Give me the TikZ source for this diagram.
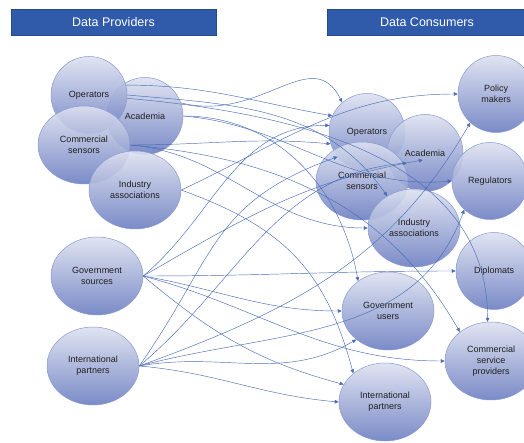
\documentclass[tikz,border=0pt]{standalone}
\usepackage{fontspec}
\setmainfont{Liberation Sans}
\usepackage{xcolor}
\usepackage{tikz}
\usetikzlibrary{calc, shapes.geometric, arrows.meta}

\definecolor{hdrblue}{HTML}{2F5BAA}
\definecolor{bubtop}{HTML}{DDE1F0}
\definecolor{bubbot}{HTML}{6C7EC1}
\definecolor{bubline}{HTML}{8A9AD0}
\definecolor{linkc}{HTML}{4A6DB6}

\begin{document}
\begin{tikzpicture}[x = 1pt, y = 1pt,
		bub/.style = {ellipse, draw = bubline, line width = 0.5pt, top color = bubtop, bottom color = bubbot, fill opacity = 0.9, text opacity = 1, minimum width = 92pt, minimum height = 78pt, inner sep = 0pt, align = center, text = black!88, font = \fontsize{9}{10.8}\selectfont},
		rbub/.style = {bub, minimum width = 76pt, minimum height = 77pt},
		hdr/.style = {rectangle, fill = hdrblue, draw = hdrblue!80!black, line width = 0.4pt, text = white, minimum height = 26pt, inner sep = 0pt, font = \fontsize{12.5}{14}\selectfont},
		link/.style = {draw = linkc, line width = 0.45pt}]
			\useasboundingbox (0,0) rectangle (524,-443);
			\clip (0,0) rectangle (524,-443);

			\begin{scope}
				\node [hdr, minimum width = 205pt] (prov) at (113.5,-22) {Data Providers};
				\node [hdr, minimum width = 200pt] (cons) at (427,-22) {Data Consumers};
			\end{scope}

			\begin{scope}
				\node [rbub] (acL) at (145,-116) {Academia};
				\node [rbub] (opL) at (89,-95) {Operators};
				\node [bub] (csL) at (84,-145) {Commercial\\sensors};
				\node [bub] (iaL) at (135,-190) {Industry\\associations};
				\node [bub] (gsL) at (97,-276) {Government\\sources};
				\node [bub] (ipL) at (93,-366) {International\\partners};
			\end{scope}

			\begin{scope}
				\node [rbub] (opR) at (367,-132) {Operators};
				\node [rbub] (acR) at (425,-153) {Academia};
				\node [bub] (csR) at (362,-181) {Commercial\\sensors};
				\node [bub] (iaR) at (414,-228) {Industry\\associations};
				\node [rbub] (pmR) at (496,-94) {Policy\\makers};
				\node [rbub] (reR) at (490,-181) {Regulators};
				\node [rbub] (diR) at (494,-271) {Diplomats};
				\node [bub] (guR) at (388,-311) {Government\\users};
				\node [bub] (cspR) at (491,-361) {Commercial\\service\\providers};
				\node [bub] (ipR) at (385,-402) {International\\partners};
			\end{scope}

			\begin{scope}[link, -{Triangle[length = 4pt, width = 3.6pt]}]
				\draw (acL.20) .. controls +(80,-20) and +(-30,60) .. (opR.130);
				\draw (opL.15) to [out = 0, in = 170] (opR.155);
				\draw (gsL.east) to [out = 40, in = 180] (opR.170);
				\draw (csL.east) to [out = 0, in = 175] (opR.198);
				\draw (ipL.east) to [out = 55, in = 200, looseness = 1.2] (opR.220);
				\draw (ipL.east) to [out = 40, in = 185] ([shift = {(20,-10)}]acR.west);
				\draw (gsL.east) to [out = 30, in = 190] ([shift = {(36,-7)}]acR.west);
				\draw (iaL.east) to [out = 25, in = 180] (pmR.180);
				\draw (ipL.east) to [out = 20, in = 240] (pmR.228);
				\draw (opL.0) to [out = -5, in = 125] (iaR.130);
				\draw (csL.east) to [out = -5, in = 180] (iaR.180);
				\draw (acL.east) to [out = -5, in = 185] (reR.180);
				\draw (ipL.east) to [out = 15, in = 250] (reR.228);
				\draw (gsL.east) to [out = 0, in = 180] (diR.180);
				\draw (acL.east) to [out = 0, in = 100] (guR.135);
				\draw (gsL.east) to [out = -10, in = 180] (guR.180);
				\draw (ipL.east) to [out = 10, in = 210] (guR.222);
				\draw (csL.east) to [out = -5, in = 120] (cspR.137);
				\draw (opL.-5) to [out = -5, in = 90] (cspR.95);
				\draw (gsL.east) to [out = -15, in = 180] (cspR.180);
				\draw (iaL.east) to [out = -20, in = 105, looseness = 1.1] (ipR.138);
				\draw (gsL.east) to [out = -40, in = 165] (ipR.157);
				\draw (ipL.east) to [out = -5, in = 175] (ipR.180);
			\end{scope}
		\end{tikzpicture}
\end{document}
